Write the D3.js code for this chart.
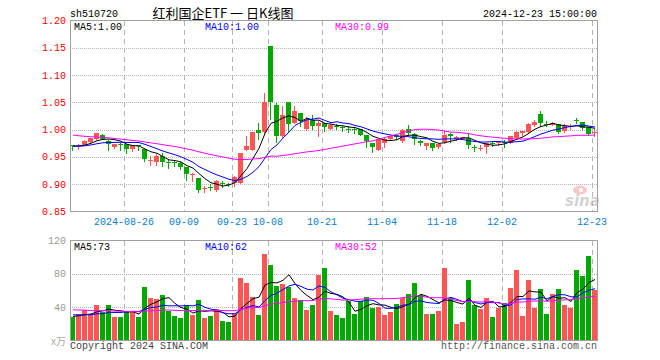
<!DOCTYPE html>
<html>
<head>
<meta charset="utf-8">
<script src="https://cdn.jsdelivr.net/npm/d3@7"></script>
<style>
  body { margin: 0; background: #fff; }
  svg { display: block; }
  text { font-family: "Liberation Mono", "DejaVu Sans Mono", monospace; font-size: 10px; }
</style>
</head>
<body>
<svg id="chart" width="660" height="360"></svg>
<script>
const dates = [
  '08-13', '08-14', '08-15', '08-16', '08-19', '08-20', '08-21', '08-22', '08-23', '08-26', '08-27', '08-28', '08-29', '08-30',
  '09-02', '09-03', '09-04', '09-05', '09-06', '09-09', '09-10', '09-11', '09-12', '09-13', '09-18', '09-19', '09-20',
  '09-23', '09-24', '09-25', '09-26', '09-27', '09-30',
  '10-08', '10-09', '10-10', '10-11', '10-14', '10-15', '10-16', '10-17', '10-18', '10-21', '10-22', '10-23', '10-24', '10-25',
  '10-28', '10-29', '10-30', '10-31',
  '11-01', '11-04', '11-05', '11-06', '11-07', '11-08', '11-11', '11-12', '11-13', '11-14', '11-15', '11-18', '11-19', '11-20',
  '11-21', '11-22', '11-25', '11-26', '11-27', '11-28', '11-29',
  '12-02', '12-03', '12-04', '12-05', '12-06', '12-09', '12-10', '12-11', '12-12', '12-13', '12-16', '12-17', '12-18', '12-19',
  '12-20', '12-23'
];

const open = [
  0.971, 0.970, 0.972, 0.978, 0.983, 0.991, 0.980, 0.969, 0.974, 0.973, 0.964, 0.971, 0.964, 0.944,
  0.940, 0.951, 0.941, 0.941, 0.939, 0.931, 0.917, 0.911, 0.892, 0.895, 0.890, 0.902, 0.901,
  0.903, 0.903, 0.963, 0.963, 1.000, 0.995,
  1.153, 1.046, 0.988, 1.050, 1.013, 1.030, 1.001, 1.018, 1.007, 1.012, 1.002, 1.007, 1.004, 1.002,
  1.001, 1.001, 0.990, 0.975,
  0.963, 0.976, 0.982, 0.991, 0.979, 1.001, 0.992, 0.980, 0.970, 0.975, 0.969, 0.977, 0.9926, 0.982,
  0.983, 0.984, 0.968, 0.966, 0.9685, 0.976, 0.976,
  0.977, 0.976, 0.984, 0.993, 0.995, 1.009, 1.029, 1.0105, 1.009, 1.010, 0.997, 1.005, 1.017, 1.0135,
  1.004, 0.995
];
const high = [
  0.972, 0.973, 0.981, 0.985, 0.994, 0.992, 0.981, 0.974, 0.975, 0.974, 0.972, 0.972, 0.965, 0.952,
  0.956, 0.957, 0.945, 0.945, 0.940, 0.932, 0.920, 0.912, 0.897, 0.9005, 0.907, 0.905, 0.903,
  0.915, 0.958, 0.989, 0.996, 1.012, 1.067,
  1.154, 1.049, 1.044, 1.050, 1.043, 1.031, 1.023, 1.026, 1.015, 1.013, 1.011, 1.010, 1.007, 1.006,
  1.004, 1.002, 0.990, 0.976,
  0.983, 0.984, 0.989, 0.992, 1.001, 1.009, 0.994, 0.981, 0.976, 0.976, 0.974, 0.998, 0.994, 0.989,
  0.987, 0.992, 0.972, 0.971, 0.976, 0.978, 0.980,
  0.981, 0.989, 0.998, 0.998, 1.012, 1.017, 1.035, 1.015, 1.0135, 1.011, 1.010, 1.0095, 1.0215, 1.014,
  1.005, 1.001
];
const low = [
  0.962, 0.965, 0.971, 0.976, 0.982, 0.982, 0.962, 0.966, 0.962, 0.957, 0.960, 0.962, 0.942, 0.935,
  0.935, 0.934, 0.930, 0.933, 0.927, 0.908, 0.906, 0.886, 0.885, 0.890, 0.888, 0.894, 0.896,
  0.896, 0.902, 0.962, 0.962, 0.982, 0.994,
  1.020, 0.977, 0.987, 0.997, 1.012, 1.006, 1.000, 1.001, 0.989, 0.997, 1.001, 1.001, 0.998, 0.996,
  0.993, 0.990, 0.969, 0.959,
  0.962, 0.969, 0.981, 0.983, 0.977, 0.991, 0.974, 0.971, 0.965, 0.962, 0.9655, 0.976, 0.977, 0.981,
  0.982, 0.9665, 0.961, 0.962, 0.958, 0.970, 0.972,
  0.969, 0.975, 0.983, 0.991, 0.994, 1.007, 1.007, 1.006, 1.008, 0.994, 0.995, 1.002, 1.0125, 1.001,
  0.991, 0.989
];
const close = [
  0.970, 0.971, 0.980, 0.984, 0.993, 0.983, 0.974, 0.973, 0.971, 0.965, 0.971, 0.970, 0.946, 0.945,
  0.952, 0.940, 0.940, 0.940, 0.932, 0.918, 0.918, 0.890, 0.893, 0.894, 0.905, 0.901, 0.900,
  0.914, 0.958, 0.9695, 0.995, 0.993, 1.050,
  1.050, 0.989, 1.026, 1.011, 1.035, 1.015, 1.018, 1.007, 1.012, 1.005, 1.009, 1.006, 1.003, 1.001,
  1.000, 0.991, 0.979, 0.968,
  0.982, 0.983, 0.988, 0.986, 0.999, 0.993, 0.983, 0.975, 0.975, 0.967, 0.9735, 0.990, 0.989, 0.987,
  0.986, 0.972, 0.967, 0.967, 0.975, 0.975, 0.977,
  0.976, 0.988, 0.996, 0.997, 1.010, 1.0135, 1.012, 1.010, 1.012, 0.995, 1.007, 1.006, 1.015, 1.0025,
  0.992, 0.996
];
// volume, in 10k units
const volume = [
  28.0, 32.0, 36.8, 32.0, 43.2, 34.0, 43.2, 28.8, 28.8, 36.0, 36.0, 28.8, 64.8, 51.6,
  50.4, 55.2, 35.2, 30.0, 26.8, 41.2, 31.2, 49.2, 26.8, 30.0, 38.4, 24.0, 22.8,
  31.3, 75.6, 68.8, 52.8, 31.2, 104.4,
  91.2, 66.0, 68.4, 64.8, 51.6, 49.2, 36.4, 43.2, 79.2, 87.6, 36.0, 31.2, 27.6, 48.0,
  32.4, 48.0, 52.8, 39.6,
  40.8, 31.2, 34.8, 44.4, 51.6, 56.4, 69.6, 55.2, 32.4, 32.4, 36.0, 87.6, 51.6, 20.4,
  22.8, 73.2, 43.2, 38.4, 51.6, 28.8, 39.6,
  45.6, 63.6, 85.2, 30.0, 73.2, 39.6, 62.4, 32.4, 56.4, 62.4, 43.2, 39.6, 85.2, 78.0,
  102.0, 61.2
];
// sessions before 08-13 (off the chart), estimated so the averages start where the picture shows them
const earlierClose = [
  1.012, 1.008, 1.010, 1.004, 1.006, 1.001, 1.009, 1.005, 1.003, 1.006,
  1.000, 0.998, 0.995, 0.999, 0.992, 0.994, 0.990, 0.993, 0.989, 0.986,
  0.978, 0.972, 0.968, 0.971, 0.966, 0.969, 0.972, 0.967, 0.970
];
const earlierVolume = [
  45, 38, 52, 41, 36, 48, 39, 33, 44, 42,
  37, 35, 46, 40, 38, 34, 43, 36, 39, 34,
  36, 31, 35, 30, 33, 27, 31, 28, 30
];

const priceTicks = [1.20, 1.15, 1.10, 1.05, 1.00, 0.95, 0.90, 0.85];
const volumeTicks = [120, 80, 40];
const tickDates = ['08-26', '09-09', '09-23', '10-08', '10-21', '11-04', '11-18', '12-02', '12-23'];
const tickLabels = ['2024-08-26', '09-09', '09-23', '10-08', '10-21', '11-04', '11-18', '12-02', '12-23'];
const maPeriods = [5, 10, 30];
const maColors = ['#000000', '#0000ff', '#ff00ff'];

const upColor = '#ff5555';
const downColor = '#00a800';
const gridColor = '#b4b4b4';
const borderColor = '#a0a0a0';

const svg = d3.select('#chart');
const plotLeft = 70;
const plotRight = 598;

const x = d3.scaleBand().domain(dates).range([plotLeft, plotRight]).padding(0);
const bodyWidth = x.bandwidth() - 1;
const mid = d => x(d) + bodyWidth / 2;
const yPrice = d3.scaleLinear().domain([0.85, 1.20]).range([211.5, 20.5]);
const yVol = d3.scaleLinear().domain([0, 120]).range([340.5, 240.5]);

const bars = dates.map((d, i) => ({ date: d, o: open[i], h: high[i], l: low[i], c: close[i], v: volume[i] }));
const isUp = b => b.c > b.o || (b.c === b.o && b.c >= 0);

function movingAverage(values, earlier, n) {
  const all = earlier.concat(values);
  return values.map((_, i) => {
    const end = i + earlier.length;
    return d3.mean(all.slice(end - n + 1, end + 1));
  });
}

const priceMA = maPeriods.map(n => movingAverage(close, earlierClose, n));
const volumeMA = maPeriods.map(n => movingAverage(volume, earlierVolume, n));

// grid
function drawGrid(yScale, ticks, top, bottom) {
  const g = svg.append('g');
  g.selectAll('line.h')
    .data(ticks)
    .join('line')
    .attr('x1', plotLeft).attr('x2', plotRight - 1)
    .attr('y1', t => Math.round(yScale(t)) + 0.5)
    .attr('y2', t => Math.round(yScale(t)) + 0.5)
    .attr('stroke', gridColor)
    .attr('stroke-dasharray', '1,1');
  g.selectAll('line.v')
    .data(tickDates)
    .join('line')
    .attr('x1', d => x(d) + 0.5).attr('x2', d => x(d) + 0.5)
    .attr('y1', top).attr('y2', bottom)
    .attr('stroke', gridColor)
    .attr('stroke-dasharray', '5,4');
}
drawGrid(yPrice, priceTicks.slice(1, -1), 21, 211);
drawGrid(yVol, [80, 40], 241, 340);

// candles
const candles = svg.append('g').selectAll('g')
  .data(bars)
  .join('g')
  .attr('fill', b => (isUp(b) ? upColor : downColor))
  .attr('stroke', b => (isUp(b) ? upColor : downColor));

candles.append('line')
  .attr('x1', b => x(b.date) + 2.5).attr('x2', b => x(b.date) + 2.5)
  .attr('y1', b => Math.round(yPrice(b.h)))
  .attr('y2', b => Math.round(yPrice(b.l)) + 1);

candles.append('rect')
  .attr('stroke', 'none')
  .attr('x', b => x(b.date))
  .attr('width', bodyWidth)
  .attr('y', b => Math.round(yPrice(Math.max(b.o, b.c))))
  .attr('height', b => Math.max(1, Math.round(yPrice(Math.min(b.o, b.c))) - Math.round(yPrice(Math.max(b.o, b.c)))));

// volume bars
svg.append('g').selectAll('rect')
  .data(bars)
  .join('rect')
  .attr('x', b => x(b.date))
  .attr('width', bodyWidth)
  .attr('y', b => Math.round(yVol(b.v)))
  .attr('height', b => Math.round(yVol(0)) - Math.round(yVol(b.v)))
  .attr('fill', b => (isUp(b) ? upColor : downColor));

// moving average lines
function drawLines(series, yScale) {
  series.forEach((values, k) => {
    const line = d3.line()
      .x((_, i) => mid(dates[i]) + 0.5)
      .y(v => yScale(v));
    svg.append('path')
      .datum(values)
      .attr('d', line)
      .attr('fill', 'none')
      .attr('stroke', maColors[k])
      .attr('stroke-width', 1);
  });
}
drawLines(priceMA, yPrice);
drawLines(volumeMA, yVol);

// borders
svg.append('rect')
  .attr('x', plotLeft + 0.5).attr('y', 20.5)
  .attr('width', plotRight - plotLeft - 1).attr('height', 191)
  .attr('fill', 'none').attr('stroke', borderColor);
svg.append('rect')
  .attr('x', plotLeft + 0.5).attr('y', 240.5)
  .attr('width', plotRight - plotLeft - 1).attr('height', 100)
  .attr('fill', 'none').attr('stroke', borderColor);

// axis labels
svg.append('g').selectAll('text')
  .data(priceTicks)
  .join('text')
  .attr('x', 66)
  .attr('y', t => yPrice(t) + 3.5)
  .attr('text-anchor', 'end')
  .attr('fill', '#ff0000')
  .text(t => t.toFixed(2));

svg.append('g').selectAll('text')
  .data(volumeTicks)
  .join('text')
  .attr('x', 66)
  .attr('y', t => yVol(t) + 3.5)
  .attr('text-anchor', 'end')
  .attr('fill', '#999999')
  .text(t => t);

svg.append('text')
  .attr('x', 66).attr('y', 345)
  .attr('text-anchor', 'end')
  .attr('fill', '#aaaaaa')
  .style('font-family', '"Noto Sans CJK SC", sans-serif')
  .style('font-size', '10px')
  .text('x万');

svg.append('g').selectAll('text')
  .data(tickDates)
  .join('text')
  .attr('x', d => x(d))
  .attr('y', 225)
  .attr('text-anchor', 'middle')
  .attr('fill', '#0a80d0')
  .text((d, i) => tickLabels[i]);

// MA legends
const last = dates.length - 1;
maPeriods.forEach((n, k) => {
  const lx = [74, 205, 335][k];
  svg.append('text')
    .attr('x', lx).attr('y', 30)
    .attr('fill', maColors[k])
    .text(`MA${n}:${priceMA[k][last].toFixed(2)}`);
  svg.append('text')
    .attr('x', lx).attr('y', 249.5)
    .attr('fill', maColors[k])
    .text(`MA${n}:${Math.floor(volumeMA[k][last])}`);
});

// header
svg.append('text').attr('x', 70).attr('y', 16.5).attr('fill', '#000').text('sh510720');
svg.append('text').attr('x', 597).attr('y', 16.5).attr('text-anchor', 'end').attr('fill', '#000')
  .text('2024-12-23 15:00:00');
svg.append('text')
  .attr('x', 223).attr('y', 17.5)
  .attr('text-anchor', 'middle')
  .attr('fill', '#000')
  .style('font-family', '"Noto Sans CJK SC", sans-serif')
  .style('font-size', '13px')
  .text('红利国企ETF 一 日K线图');

// footer
svg.append('text').attr('x', 70).attr('y', 348.5).attr('fill', '#444').text('Copyright 2024 SINA.COM');
svg.append('text').attr('x', 597).attr('y', 348.5).attr('text-anchor', 'end').attr('fill', '#555')
  .text('http://finance.sina.com.cn');

// sina watermark
const logo = svg.append('g').attr('opacity', 0.55);
logo.append('ellipse').attr('cx', 580).attr('cy', 190).attr('rx', 7).attr('ry', 4.5).attr('fill', '#f0a0a0');
logo.append('circle').attr('cx', 581).attr('cy', 190).attr('r', 2).attr('fill', '#fff');
logo.append('text')
  .attr('x', 565).attr('y', 206)
  .attr('fill', '#b0b0b0')
  .style('font-family', '"DejaVu Sans", sans-serif')
  .style('font-size', '15px')
  .style('font-style', 'italic')
  .style('font-weight', 'bold')
  .text('sina');
</script>
</body>
</html>
